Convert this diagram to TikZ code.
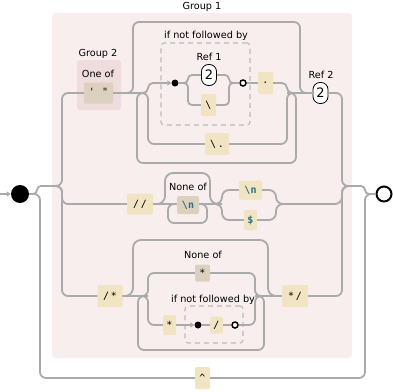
\documentclass[tikz,border=0pt]{standalone}
\usepackage{fontspec}
\setmainfont{DejaVu Sans}
\newfontfamily\monof{DejaVu Sans Mono}
\usetikzlibrary{arrows.meta}
\definecolor{linec}{HTML}{AAAAAA}
\definecolor{litc}{HTML}{F0E4C2}
\definecolor{csc}{HTML}{DCD0BE}
\definecolor{g1c}{HTML}{F8EEEE}
\definecolor{g2c}{HTML}{EFDCDC}
\definecolor{escc}{HTML}{2E6E80}
\definecolor{dashc}{HTML}{BBBBBB}
\begin{document}
\begin{tikzpicture}[x=1pt,y=-1pt,
  rail/.style={draw=linec,line width=1.8pt,rounded corners=6pt},
  rsm/.style={rail,rounded corners=4pt},
  lit/.style={fill=litc,rounded corners=1.5pt,inner sep=0pt,minimum height=22pt,font=\monof\fontsize{10}{11}\selectfont},
  cset/.style={lit,fill=csc},
  esc/.style={text=escc,font=\monof\bfseries\fontsize{10}{11}\selectfont},
  lbl/.style={font=\fontsize{9.7}{10}\selectfont,inner sep=0pt},
  pill/.style={draw=black,line width=0.8pt,fill=white,rounded corners=7pt,minimum width=15pt,minimum height=21pt,inner sep=0pt,font=\fontsize{13}{13}\selectfont},
  dotf/.style={circle,fill=black,minimum size=7pt,inner sep=0pt},
  doto/.style={circle,draw=black,line width=1.5pt,fill=white,minimum size=6pt,inner sep=0pt},
  look/.style={draw=dashc,dash pattern=on 5pt off 4pt,line width=1.1pt,rounded corners=3pt,inner sep=0pt},
  tip/.style={-{Triangle[length=4pt,width=5pt]}}
]
\useasboundingbox[fill=white] (0,0) rectangle (393,391);
% containers
\node[fill=g1c,rounded corners=3pt,minimum width=300pt,minimum height=345pt,inner sep=0pt] (g1) at (202,185.5) {};
\node[lbl] (g1l) at (202,7) {Group 1};
\node[fill=g2c,rounded corners=3pt,minimum width=44pt,minimum height=50pt,inner sep=0pt] (g2) at (99,85) {};
\node[lbl] (g2l) at (98,54) {Group 2};
\node[lbl] (g2o) at (98,74) {One of};
\node[look,minimum width=89pt,minimum height=82pt] (la1) at (205.5,84) {};
\node[lbl] (la1l) at (206,36) {if not followed by};
\node[look,minimum width=58pt,minimum height=37pt] (la2) at (214,324.5) {};
\node[lbl] (la2l) at (213,300) {if not followed by};
\node[lbl] (no1l) at (188,187) {None of};
\node[lbl] (no2l) at (203,255) {None of};
\node[lbl] (r1l) at (209,57) {Ref 1};
\node[lbl] (r2l) at (321,75) {Ref 2};
% terminals
\node[circle,fill=black,minimum size=18pt,inner sep=0pt] (start) at (20,194) {};
\node[circle,draw=black,line width=2pt,fill=white,minimum size=15pt,inner sep=0pt] (end) at (384,194) {};
\coordinate (in) at (0,194);
\coordinate (e1) at (52,186);
\coordinate (x1) at (352,186);
% branch 1 nodes
\node[cset,minimum width=29pt,minimum height=21pt] (cs2) at (98.5,93) {\raisebox{3pt}{\char"27\hspace{7pt}\char"22}};
\node[dotf] (dot1) at (175,83) {};
\node[pill] (ref1) at (209,75) {2};
\node[lit,minimum width=15pt] (bs1) at (208.5,105) {\char"5C};
\node[doto] (o1) at (243,83) {};
\node[lit,minimum width=15pt] (dl) at (265.5,83) {.};
\node[lit,minimum width=24pt] (bsd) at (217,144) {\char"5C\,.};
\node[pill] (ref2) at (320.5,93) {2};
% branch 2 nodes
\node[lit,minimum width=26pt,minimum height=21pt] (sl2) at (140,204) {/\,/};
\node[cset,minimum width=22pt,minimum height=18pt] (cn) at (188,205) {\textcolor{escc}{\bfseries\char"5C n}};
\node[lit,minimum width=23pt,minimum height=19pt,esc] (en) at (250.5,190) {\char"5C n};
\node[lit,minimum width=13pt,minimum height=20pt,esc] (dol) at (250.5,220) {\$};
% branch 3 nodes
\node[lit,minimum width=25pt] (ss) at (110,296) {/\,*};
\node[cset,minimum width=15pt,minimum height=17pt] (st1) at (202.5,273) {*};
\node[lit,minimum width=13pt,minimum height=20pt] (st2) at (169.5,325) {*};
\node[dotf] (dot2) at (198,325) {};
\node[lit,minimum width=13pt,minimum height=17pt] (sl) at (216.5,325) {/};
\node[doto] (o2) at (235,325) {};
\node[lit,minimum width=26pt] (se) at (295,296) {*\,/};
\node[lit,minimum width=15pt] (car) at (202.5,378) {\char"5E};
% rails: outer
\draw[draw=linec,line width=1.5pt,tip] (in) -- (start.west);
\draw[rsm] (start.east) -- (37,194) -- (37,186) -- (e1);
\draw[rail] (start.east) -- (40,194) -- (40,378) -- (car.west);
\draw[rail] (car.east) -- (365,378) -- (365,194) -- (end.west);
\draw[rsm] (x1) -- (365,186) -- (365,194) -- (end.west);
% branch 1
\draw[rail] (e1) -- (62,186) -- (62,93) -- (cs2.west);
\draw[rail] (cs2.east) -- (133,93) -- (133,22) -- (300,22) -- (300,93) -- (ref2.west);
\draw[rail,tip,rounded corners=5pt] (cs2.east) -- (148,93) -- (148,83) -- (dot1.west);
\draw[rail] (cs2.east) -- (148,93) -- (148,144) -- (bsd.west);
\draw[rsm] (dot1.east) -- (188,83) -- (188,75) -- (ref1.west);
\draw[rsm] (dot1.east) -- (188,83) -- (188,105) -- (bs1.west);
\draw[rsm] (ref1.east) -- (229,75) -- (229,83) -- (o1.west);
\draw[rsm] (bs1.east) -- (229,105) -- (229,83) -- (o1.west);
\draw[rail] (o1.east) -- (dl.west);
\draw[rail,rounded corners=5pt] (dl.east) -- (287,83) -- (287,93) -- (ref2.west);
\draw[rail] (bsd.east) -- (287,144) -- (287,93) -- (ref2.west);
\draw[rail] (287,93) -- (296,93) -- (296,163) -- (137,163) -- (137,93) -- (146,93);
\draw[rail] (ref2.east) -- (342,93) -- (342,186) -- (x1);
% branch 2
\draw[rail] (e1) -- (62,186) -- (62,204) -- (sl2.west);
\draw[rail] (sl2.east) -- (cn.west |- 0,204);
\draw[rail,rounded corners=8pt] (sl2.east) -- (165,204) -- (165,173) -- (210,173) -- (210,204) -- (222,204);
\draw[rail] (cn.east |- 0,204) -- (207,204) -- (207,223) -- (168,223) -- (168,204) -- (cn.west |- 0,204);
\draw[rail,rounded corners=7pt] (cn.east |- 0,204) -- (222,204) -- (222,190) -- (en.west);
\draw[rail,rounded corners=7pt] (cn.east |- 0,204) -- (222,204) -- (222,220) -- (dol.west);
\draw[rail,rounded corners=7pt] (en.east) -- (276,190) -- (276,204) -- (342,204) -- (342,186) -- (x1);
\draw[rail,rounded corners=7pt] (dol.east) -- (276,220) -- (276,204) -- (290,204);
% branch 3
\draw[rail] (e1) -- (62,186) -- (62,296) -- (ss.west);
\draw[rail,rounded corners=8pt] (ss.east) -- (133,296) -- (133,240) -- (268,240) -- (268,296) -- (se.west);
\draw[rail] (255,296) -- (264,296) -- (264,350) -- (138,350) -- (138,296) -- (148,296);
\draw[rail] (ss.east) -- (148,296) -- (148,273) -- (st1.west);
\draw[rail] (st1.east) -- (255,273) -- (255,296) -- (se.west);
\draw[rail] (ss.east) -- (148,296) -- (148,325) -- (st2.west);
\draw[rail,tip] (st2.east) -- (dot2.west);
\draw[rail] (dot2.east) -- (sl.west);
\draw[rail] (sl.east) -- (o2.west);
\draw[rail] (o2.east) -- (255,325) -- (255,296) -- (se.west);
\draw[rail] (se.east) -- (342,296) -- (342,186) -- (x1);
\end{tikzpicture}
\end{document}
